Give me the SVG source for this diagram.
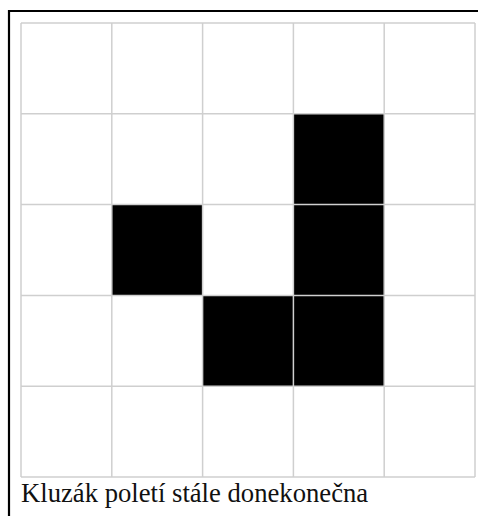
<svg xmlns="http://www.w3.org/2000/svg" width="478" height="516" viewBox="0 0 478 516">
<style>
.frame{stroke:#000;stroke-width:2.2;fill:none}
.cell{fill:#000}
.grid{stroke:#cfcfcf;stroke-width:1.5;fill:none}
.cap{font-family:"Liberation Serif",serif;font-size:26.67px;fill:#111}
</style>
<rect x="0" y="0" width="478" height="516" fill="#fff"/>
<g id="frame">
<path class="frame" d="M9,516 V11 H478"/>
</g>
<g id="cells">
<rect class="cell" x="293.4" y="113.8" width="90.8" height="90.8"/>
<rect class="cell" x="111.8" y="204.6" width="90.8" height="90.8"/>
<rect class="cell" x="293.4" y="204.6" width="90.8" height="90.8"/>
<rect class="cell" x="202.6" y="295.4" width="90.8" height="90.8"/>
<rect class="cell" x="293.4" y="295.4" width="90.8" height="90.8"/>
</g>
<g id="grid">
<path class="grid" d="M21,23 V477 M111.8,23 V477 M202.6,23 V477 M293.4,23 V477 M384.2,23 V477 M475,23 V477 M21,23 H475 M21,113.8 H475 M21,204.6 H475 M21,295.4 H475 M21,386.2 H475 M21,477 H475"/>
</g>
<g id="caption">
<text class="cap" x="21" y="502">Kluzák poletí stále donekonečna</text>
</g>
</svg>
